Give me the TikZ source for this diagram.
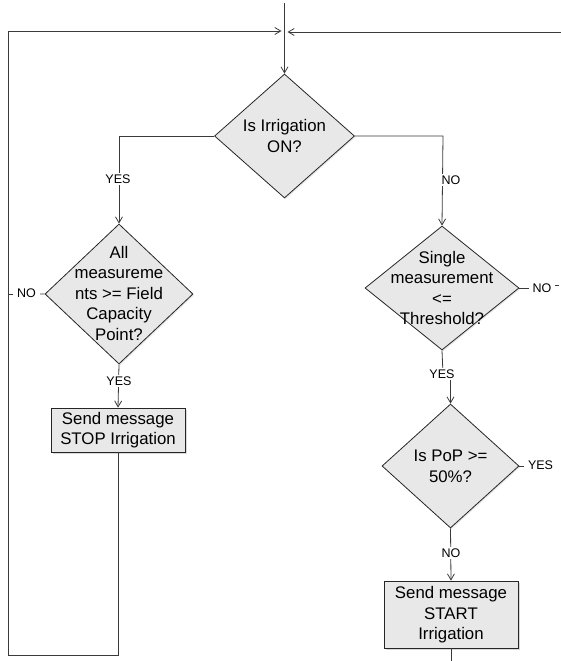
\documentclass[tikz,border=0pt]{standalone}
\usepackage{fontspec}
\setmainfont{Liberation Sans}
\usetikzlibrary{shapes.geometric,arrows.meta,shadows}
\definecolor{boxfill}{HTML}{E8E8E8}
\definecolor{linegray}{HTML}{3A3A3A}
\tikzset{
  dia/.style={diamond, draw=black!85, fill=boxfill, inner sep=0pt, line width=0.8pt,
    drop shadow={shadow xshift=1.2pt, shadow yshift=-1.2pt, opacity=0.2}},
  msgbox/.style={rectangle, draw=black!85, fill=boxfill, inner sep=0pt, line width=0.8pt,
    drop shadow={shadow xshift=1.5pt, shadow yshift=-1.5pt, opacity=0.3}},
  txt/.style={align=center, inner sep=0pt, font=\fontsize{16.8}{20.5}\selectfont},
  lbl/.style={fill=white, inner xsep=4pt, inner ysep=2pt, font=\fontsize{12.5}{15}\selectfont},
  conn/.style={draw=linegray, line width=0.8pt},
  arr/.style={conn, -{Straight Barb[length=6pt,width=7pt]}}
}
\begin{document}
\begin{tikzpicture}[x=1pt,y=-1pt]
\useasboundingbox (0,0) rectangle (561,661);
% shapes
\node[dia, minimum width=140pt, minimum height=124pt] (d1) at (284.5,136) {};
\node[txt] (t1) at (284.5,136) {Is Irrigation\\ON?};
\node[dia, minimum width=148pt, minimum height=140pt] (d2) at (119,294) {};
\node[txt] (t2) at (119,293) {All\\measureme\\nts >= Field\\Capacity\\Point?};
\node[dia, minimum width=154pt, minimum height=124pt] (d3) at (442,288) {};
\node[txt] (t3) at (442,288) {Single\\measurement\\<=\\Threshold?};
\node[dia, minimum width=137pt, minimum height=124pt] (d4) at (450.5,466) {};
\node[txt] (t4) at (450.5,466.5) {Is PoP >=\\50\%?};
\node[msgbox, minimum width=134pt, minimum height=44pt] (stop) at (118,430) {};
\node[txt] (ts) at (118,430) {Send message\\STOP Irrigation};
\node[msgbox, minimum width=134pt, minimum height=67pt] (start) at (451,614.5) {};
\node[txt] (tst) at (451,615) {Send message\\START\\Irrigation};
% coordinates
\coordinate (top) at (284.5,3);
\coordinate (lt) at (8,31);
\coordinate (lb) at (8,655);
\coordinate (sb) at (118,655);
\coordinate (ltip) at (281.5,31);
\coordinate (rs) at (561,32);
\coordinate (rtip) at (287.5,32);
\coordinate (lno) at (8,294.5);
\coordinate (bend1) at (119,136);
\coordinate (bend2) at (443,136);
\coordinate (jog) at (443,374);
\coordinate (bot) at (451,661);
\coordinate (dashA) at (555,285);
\coordinate (dashB) at (559,285);
% connectors
\draw[arr] (top) -- (d1.north);
\draw[arr] (stop.south) -- (sb) -- (lb) -- (lt) -- (ltip);
\draw[arr] (rs) -- (rtip);
\draw[arr] (d1.west) -- (bend1) -- (d2.north);
\node[lbl] (yes1) at (118,179) {YES};
\draw[arr] (d1.east) -- (bend2) -- (d3.north);
\node[lbl] (no1) at (451,180) {NO};
\draw[conn] (d2.west) -- (lno);
\node[lbl] (no2) at (26.5,293) {NO};
\draw[arr] (d2.south) -- (stop.north);
\node[lbl] (yes2) at (119,381) {YES};
\draw[conn] (d3.east) -- ++(14,0);
\node[lbl] (no3) at (542,288) {NO};
\draw[conn] (dashA) -- (dashB);
\draw[arr] (d3.south) -- (jog) -| (d4.north);
\node[lbl] (yes3) at (442,374) {YES};
\node[lbl, fill=none] (yes4) at (540.5,465) {YES};
\draw[conn] (d4.east) -- (yes4.west |- d4.east);
\draw[arr] (d4.south) -- (start.north);
\node[lbl] (no4) at (451,553) {NO};
\draw[conn] (start.south) -- (bot);
\end{tikzpicture}
\end{document}
